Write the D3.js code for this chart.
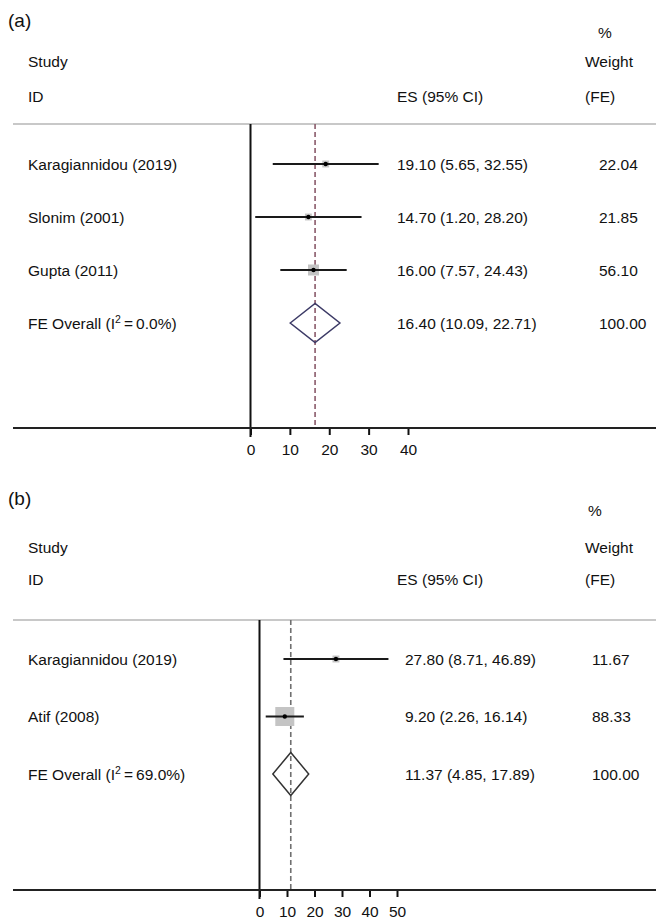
<!DOCTYPE html>
<html><head><meta charset="utf-8">
<script src="https://cdn.jsdelivr.net/npm/d3@7"></script>
<style>body{margin:0;background:#fff}svg{display:block}text{font-family:"Liberation Sans",Arial,sans-serif;fill:#111}</style>
</head><body>
<svg id="c" width="656" height="919"></svg>
<script>
// Panel (a)
const studiesA = ["Karagiannidou (2019)", "Slonim (2001)", "Gupta (2011)"];
const esA = [19.10, 14.70, 16.00];
const lowA = [5.65, 1.20, 7.57];
const highA = [32.55, 28.20, 24.43];
const weightA = [22.04, 21.85, 56.10];
const overallA = [16.40, 10.09, 22.71];
const i2A = "0.0%";
const ticksA = [0, 10, 20, 30, 40];
// Panel (b)
const studiesB = ["Karagiannidou (2019)", "Atif (2008)"];
const esB = [27.80, 9.20];
const lowB = [8.71, 2.26];
const highB = [46.89, 16.14];
const weightB = [11.67, 88.33];
const overallB = [11.37, 4.85, 17.89];
const i2B = "69.0%";
const ticksB = [0, 10, 20, 30, 40, 50];

const svg = d3.select("#c");
const f2 = d3.format(".2f");

function panel(o) {
  const g = svg.append("g");
  const x = d3.scaleLinear().domain(o.domain).range(o.xr);
  const n = o.studies.length;
  const y = d3.scaleLinear().domain([0, n]).range(o.yr);
  const fs = 15.5;
  // header texts
  g.append("text").attr("x", 8).attr("y", o.hy.lab).attr("font-size", 19).text(o.label);
  g.append("text").attr("x", o.pctX).attr("y", o.hy.pct).attr("font-size", fs).text("%");
  g.append("text").attr("x", 28).attr("y", o.hy.study).attr("font-size", fs).text("Study");
  g.append("text").attr("x", 585).attr("y", o.hy.study).attr("font-size", fs).text("Weight");
  g.append("text").attr("x", 28).attr("y", o.hy.id).attr("font-size", fs).text("ID");
  g.append("text").attr("x", 397).attr("y", o.hy.id).attr("font-size", fs).text("ES (95% CI)");
  g.append("text").attr("x", 585).attr("y", o.hy.id).attr("font-size", fs).text("(FE)");
  // top separator
  g.append("line").attr("x1", 13).attr("x2", 656).attr("y1", o.topY).attr("y2", o.topY)
    .attr("stroke", "#c8c8c8").attr("stroke-width", 2);
  // null line
  g.append("line").attr("x1", x(0)).attr("x2", x(0)).attr("y1", o.topY).attr("y2", o.axisY + 9)
    .attr("stroke", "#111").attr("stroke-width", 2);
  // overall dashed line
  g.append("line").attr("x1", x(o.overall[0])).attr("x2", x(o.overall[0]))
    .attr("y1", o.topY).attr("y2", o.axisY)
    .attr("stroke", o.dashColor).attr("stroke-width", 1.6).attr("stroke-dasharray", "5,3");
  // axis
  const ax = g.append("g").attr("transform", `translate(0,${o.axisY})`)
    .call(d3.axisBottom(x).tickValues(o.ticks).tickSize(7).tickPadding(9).tickSizeOuter(0));
  ax.select(".domain").remove();
  ax.selectAll(".tick line").attr("stroke", "#111").attr("stroke-width", 2);
  ax.selectAll(".tick text").attr("font-size", fs).attr("font-family", "Liberation Sans, Arial, sans-serif").attr("fill", "#111");
  g.append("line").attr("x1", 13).attr("x2", 656).attr("y1", o.axisY).attr("y2", o.axisY)
    .attr("stroke", "#222").attr("stroke-width", 2);
  // studies
  const maxW = d3.max(o.weight);
  o.studies.forEach((s, i) => {
    const yy = y(i);
    const side = o.maxBox * Math.sqrt(o.weight[i] / maxW);
    g.append("rect").attr("x", x(o.es[i]) - side / 2).attr("y", yy - side / 2)
      .attr("width", side).attr("height", side).attr("fill", "#c4c4c4");
    g.append("line").attr("x1", x(o.low[i])).attr("x2", x(o.high[i])).attr("y1", yy).attr("y2", yy)
      .attr("stroke", "#1a1a1a").attr("stroke-width", 2);
    g.append("circle").attr("cx", x(o.es[i])).attr("cy", yy).attr("r", 2.2).attr("fill", "#000");
    g.append("text").attr("x", 28).attr("y", yy + 5.5).attr("font-size", fs).text(s);
    g.append("text").attr("x", o.esX).attr("y", yy + 5.5).attr("font-size", fs)
      .text(`${f2(o.es[i])} (${f2(o.low[i])}, ${f2(o.high[i])})`);
    g.append("text").attr("x", o.wX).attr("y", yy + 5.5).attr("font-size", fs).text(f2(o.weight[i]));
  });
  // overall
  const yo = y(n);
  const [e, l, h] = o.overall;
  g.append("path")
    .attr("d", `M${x(l)},${yo}L${x(e)},${yo - o.dh}L${x(h)},${yo}L${x(e)},${yo + o.dh}Z`)
    .attr("fill", "none").attr("stroke", o.diaColor).attr("stroke-width", 1.5);
  const t = g.append("text").attr("x", 28).attr("y", yo + 5.5).attr("font-size", fs);
  t.append("tspan").text("FE Overall (I");
  t.append("tspan").attr("font-size", 10.5).attr("dy", -6).text("2");
  t.append("tspan").attr("dy", 6).text("\u2009=\u2009" + o.i2 + ")");
  g.append("text").attr("x", o.esX).attr("y", yo + 5.5).attr("font-size", fs)
    .text(`${f2(e)} (${f2(l)}, ${f2(h)})`);
  g.append("text").attr("x", o.wX).attr("y", yo + 5.5).attr("font-size", fs).text(f2(100));
}

panel({
  label: "(a)", studies: studiesA, es: esA, low: lowA, high: highA, weight: weightA,
  overall: overallA, i2: i2A, ticks: ticksA, domain: [0, 40], xr: [250.5, 408],
  yr: [164, 323], topY: 124, axisY: 428, pctX: 598,
  hy: { lab: 27, pct: 38, study: 67, id: 102 }, esX: 397, wX: 599,
  maxBox: 11, dh: 19.5, dashColor: "#8a5a6a", diaColor: "#3c3a66"
});
panel({
  label: "(b)", studies: studiesB, es: esB, low: lowB, high: highB, weight: weightB,
  overall: overallB, i2: i2B, ticks: ticksB, domain: [0, 50], xr: [259.5, 397],
  yr: [659, 774], topY: 620, axisY: 890, pctX: 588,
  hy: { lab: 505, pct: 516, study: 553, id: 585 }, esX: 405, wX: 592,
  maxBox: 19, dh: 21.5, dashColor: "#707070", diaColor: "#333"
});
</script>
</body></html>
